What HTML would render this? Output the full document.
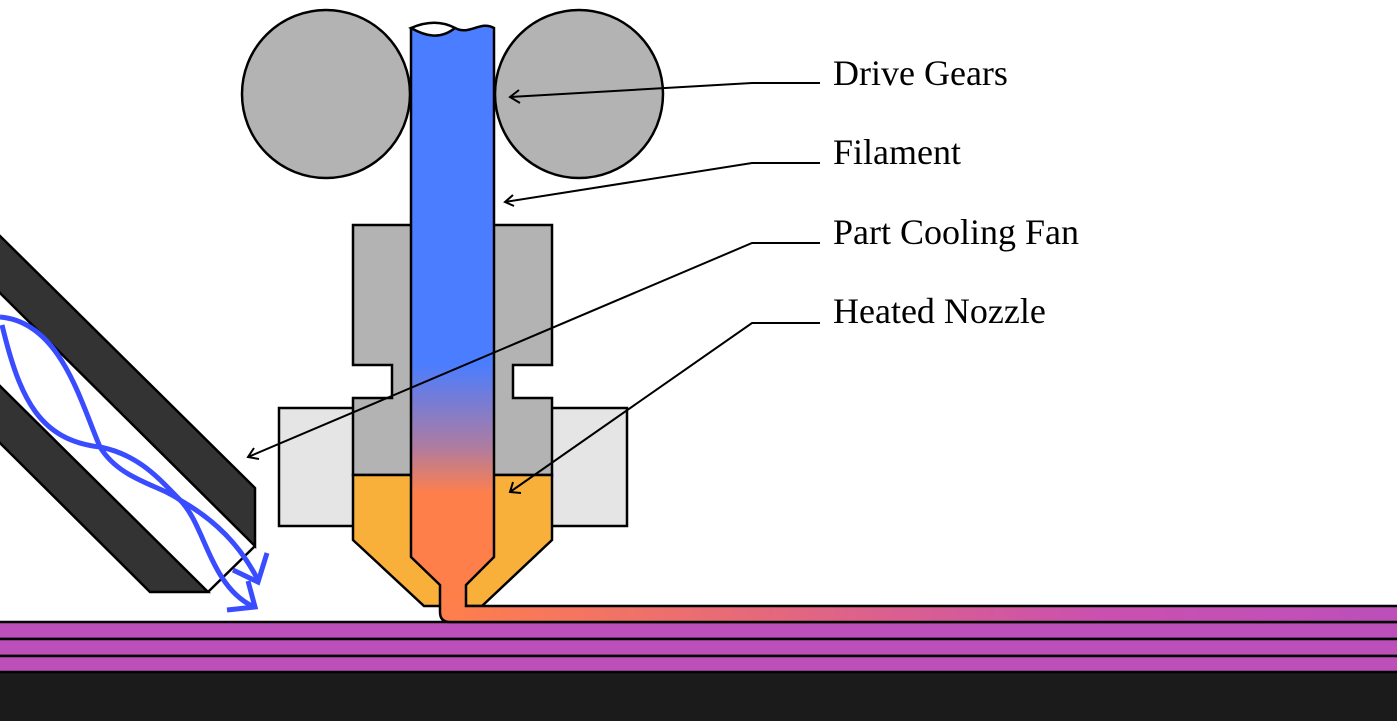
<!DOCTYPE html>
<html><head><meta charset="utf-8"><style>
html,body{margin:0;padding:0;background:#fff;}
svg{display:block;}
text{font-family:"Liberation Serif",serif;font-size:36px;fill:#000;}
</style></head><body>
<svg width="1397" height="721" viewBox="0 0 1397 721" xmlns="http://www.w3.org/2000/svg">
<defs>
<linearGradient id="fil" x1="0" y1="20" x2="0" y2="612" gradientUnits="userSpaceOnUse">
<stop offset="0" stop-color="#4a7dff"/>
<stop offset="0.58" stop-color="#4a7dff"/>
<stop offset="0.72" stop-color="#ad7ca2"/>
<stop offset="0.8" stop-color="#ff7f4b"/>
<stop offset="1" stop-color="#ff7f4b"/>
</linearGradient>
<linearGradient id="ext" x1="440" y1="0" x2="1397" y2="0" gradientUnits="userSpaceOnUse">
<stop offset="0" stop-color="#ff7f4b"/>
<stop offset="0.7" stop-color="#c950b0"/>
<stop offset="1" stop-color="#bd4fba"/>
</linearGradient>
</defs>
<rect x="0" y="672" width="1397" height="49" fill="#1b1b1b"/>
<rect x="-3" y="622" width="1403" height="17" fill="#bd4fba" stroke="#000" stroke-width="2.5"/>
<rect x="-3" y="639" width="1403" height="17" fill="#bd4fba" stroke="#000" stroke-width="2.5"/>
<rect x="-3" y="656" width="1403" height="16" fill="#bd4fba" stroke="#000" stroke-width="2.5"/>
<circle cx="326" cy="94" r="84" fill="#b3b3b3" stroke="#000" stroke-width="2.5"/>
<circle cx="579" cy="94" r="84" fill="#b3b3b3" stroke="#000" stroke-width="2.5"/>
<rect x="279" y="408" width="348" height="118" fill="#e5e5e5" stroke="#000" stroke-width="2.5"/>
<polygon points="353,225 552,225 552,365 513,365 513,398 552,398 552,475 353,475 353,398 392,398 392,365 353,365" fill="#b3b3b3" stroke="#000" stroke-width="2.5"/>
<polygon points="353,475 552,475 552,540 482,606 424,606 353,540" fill="#f9b03b" stroke="#000" stroke-width="2.5"/>
<path d="M440,600 L440,612 Q440,622 450,622 L1400,622 L1400,606 L466,606 L466,600 Z" fill="url(#ext)" stroke="none"/>
<path d="M411,28 C425,36 440,40 455,28 C470,36 480,20 494,28 L494,557 L466,585 L466,606 L440,606 L440,585 L411,557 Z" fill="url(#fil)" stroke="none"/>
<path d="M411,28 C425,22 440,20 455,28 C440,40 425,36 411,28 Z" fill="#fff" stroke="#000" stroke-width="2.5"/>
<path d="M455,28 C470,36 480,20 494,28 L494,557 L466,585 L466,606 L1400,606 M1400,622 L450,622 Q440,622 440,612 L440,585 L411,557 L411,28" fill="none" stroke="#000" stroke-width="2.5"/>
<polygon points="-3,233 255,488 255,546 -3,290" fill="#333" stroke="#000" stroke-width="2.5"/>
<polygon points="-3,383 208,592 150,592 -3,440" fill="#333" stroke="#000" stroke-width="2.5"/>
<line x1="255" y1="546" x2="208" y2="592" stroke="#000" stroke-width="2.5"/>
<g fill="none" stroke="#3a4cff" stroke-width="5">
<path d="M0,317 C60,322 80,400 100,447 C120,480 160,485 180,500 C205,525 210,585 252,606"/>
<path d="M2,325 C20,400 40,440 100,447 C140,455 160,480 180,500 C215,520 240,545 258,580"/>
<polyline points="267,553 258,582 233,570"/>
<polyline points="248,581 255,607 227,610"/>
</g>
<g fill="none" stroke="#000" stroke-width="2">
<polyline points="820,83 752,83 510,97"/>
<polyline points="519,90 510,97 520,103"/>
<polyline points="820,163 752,163 505,202"/>
<polyline points="513,195 505,202 514,206"/>
<polyline points="820,243 752,243 248,457"/>
<polyline points="254,448 248,457 259,459"/>
<polyline points="820,323 752,323 510,492"/>
<polyline points="513,482 510,492 521,493"/>
</g>
<text x="833" y="85">Drive Gears</text>
<text x="833" y="164">Filament</text>
<text x="833" y="244">Part Cooling Fan</text>
<text x="833" y="323">Heated Nozzle</text>
</svg>
</body></html>
